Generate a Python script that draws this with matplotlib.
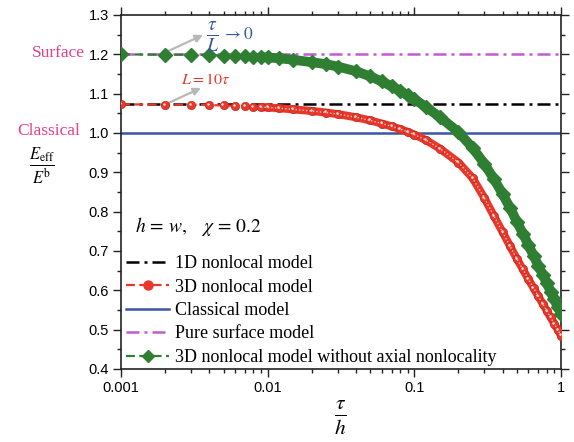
import matplotlib
matplotlib.use("Agg")
import matplotlib.pyplot as plt
from matplotlib.lines import Line2D
from matplotlib.ticker import FixedLocator, MultipleLocator, FuncFormatter
import matplotlib.transforms as mtransforms

# values
tau_h = [0.001, 0.002, 0.003, 0.004, 0.005, 0.006, 0.007, 0.008, 0.009, 0.01,
         0.012, 0.015, 0.02, 0.025, 0.03, 0.04, 0.05, 0.06, 0.07, 0.08, 0.09, 0.1,
         0.12, 0.15, 0.2, 0.25, 0.3, 0.35, 0.4, 0.45, 0.5, 0.55, 0.6, 0.65, 0.7,
         0.75, 0.8, 0.85, 0.9, 0.95, 1.0]
nonlocal_3d = [1.073, 1.072, 1.072, 1.071, 1.070, 1.069, 1.068, 1.067, 1.066, 1.065,
               1.063, 1.060, 1.056, 1.052, 1.048, 1.040, 1.032, 1.024, 1.017, 1.010, 1.003, 0.996,
               0.982, 0.960, 0.925, 0.885, 0.835, 0.788, 0.748, 0.712, 0.680, 0.653, 0.628, 0.606, 0.585,
               0.566, 0.548, 0.531, 0.515, 0.500, 0.485]
no_axial = [1.200, 1.199, 1.199, 1.198, 1.197, 1.196, 1.195, 1.194, 1.193, 1.192,
            1.190, 1.186, 1.180, 1.175, 1.169, 1.157, 1.144, 1.131, 1.119, 1.107, 1.096, 1.086,
            1.066, 1.040, 1.002, 0.962, 0.922, 0.882, 0.845, 0.809, 0.775, 0.744, 0.715, 0.688, 0.663,
            0.640, 0.618, 0.597, 0.577, 0.558, 0.540]
x_const = [0.001, 1.0]
nonlocal_1d = [1.073, 1.073]
classical = [1.0, 1.0]
pure_surface = [1.2, 1.2]

labels = ["1D nonlocal model", "3D nonlocal model", "Classical model",
          "Pure surface model", "3D nonlocal model without axial nonlocality"]

RED = "#e8382b"
GREEN = "#2f7f32"
BLUE = "#3a55a8"
PURPLE = "#c05ccf"
PINK = "#e63e8a"
GREY = "#b8b8b8"

W, H = 574, 442
plt.rcParams["font.family"] = ["Liberation Serif", "DejaVu Serif"]
plt.rcParams["mathtext.fontset"] = "stix"


def fp(x, y):
    # pixel position (from top-left) -> figure fraction
    return (x / W, 1 - y / H)


fig = plt.figure(figsize=(W / 100, H / 100), dpi=100)
ax = fig.add_axes([121 / W, 1 - 369 / H, 440 / W, 354 / H])

dd = (5.2, 2.0, 1.2, 2.0)
ax.plot(x_const, classical, color=BLUE, lw=1.8, zorder=2)
ax.plot(x_const, nonlocal_1d, color="black", lw=1.8, dashes=dd, zorder=2)
ax.plot(x_const, pure_surface, color=PURPLE, lw=1.8, dashes=dd, zorder=2)

# merged band where markers overlap
band = 8
ax.plot(tau_h[band:], nonlocal_3d[band:], color=RED, lw=5.8,
        solid_capstyle="round", zorder=3)
ax.plot(tau_h, nonlocal_3d, color=RED, lw=1.6, dashes=(4, 2), marker="o", ms=6,
        mfc=RED, mec="#c82a20", mew=0.5, zorder=4)
ax.plot(tau_h[band:], nonlocal_3d[band:], color="#f8c0b8", lw=1.0, ls=(0, (1, 1.5)), zorder=5)
hl = mtransforms.offset_copy(ax.transData, fig=fig, x=-0.8, y=0.8, units="points")
ax.plot(tau_h, nonlocal_3d, ls="none", marker="o", ms=1.8, mfc="#fde0dc", mec="none",
        transform=hl, zorder=5)

ax.plot(tau_h[band:], no_axial[band:], color=GREEN, lw=7.0,
        solid_capstyle="round", zorder=6)
ax.plot(tau_h, no_axial, color=GREEN, lw=1.6, dashes=(4, 2), marker="D", ms=7.5,
        mfc=GREEN, mec=GREEN, zorder=7)

ax.set_xscale("log")
ax.set_xlim(0.001, 1)
ax.set_ylim(0.4, 1.3)
ax.xaxis.set_major_locator(FixedLocator([0.001, 0.01, 0.1, 1]))
ax.xaxis.set_major_formatter(FuncFormatter(lambda v, p: "%g" % v))
ax.yaxis.set_major_locator(MultipleLocator(0.1))
ax.yaxis.set_minor_locator(MultipleLocator(0.05))
ax.yaxis.set_major_formatter(FuncFormatter(lambda v, p: "%.1f" % v))

for s in ax.spines.values():
    s.set_linewidth(1.2)
    s.set_color("#222222")
ax.tick_params(which="both", direction="out", top=True, right=True,
               labeltop=False, labelright=False, color="#222222", width=1.0)
ax.tick_params(which="major", length=5.5, pad=3)
ax.tick_params(which="minor", length=3)
for t in ax.get_xticklabels() + ax.get_yticklabels():
    t.set_fontfamily("Liberation Sans")
    t.set_fontsize(10.5)

# legend
handles = [
    Line2D([], [], color="black", lw=1.8, dashes=dd),
    Line2D([], [], color=RED, lw=1.6, dashes=(4, 2), marker="o", ms=6.5, mfc=RED, mec=RED),
    Line2D([], [], color=BLUE, lw=1.8),
    Line2D([], [], color=PURPLE, lw=1.8, dashes=dd),
    Line2D([], [], color=GREEN, lw=1.6, dashes=(4, 2), marker="D", ms=6.5, mfc=GREEN, mec=GREEN),
]
ax.legend(handles, labels, loc="upper left", bbox_to_anchor=fp(126, 255),
          bbox_transform=fig.transFigure, frameon=False, fontsize=13,
          handlelength=2.4, handletextpad=0.3, labelspacing=0.36,
          borderpad=0, borderaxespad=0)

ax.text(*fp(135, 227), r"$h\,=\,w,\ \ \ \chi\,=\,0.2$", transform=fig.transFigure,
        fontsize=14, va="center", ha="left")

fig.text(*fp(85, 53), "Surface", color=PINK, fontsize=12.5, ha="right", va="center")
fig.text(*fp(80, 131), "Classical", color=PINK, fontsize=12.5, ha="right", va="center")
fig.text(*fp(42, 166), r"$\frac{E_{\mathrm{eff}}}{E^{\mathrm{b}}}$", fontsize=17,
         ha="center", va="center")
fig.text(*fp(340, 418), r"$\frac{\tau}{h}$", fontsize=22, ha="center", va="center")

fig.text(*fp(213, 37), r"$\frac{\tau}{L}$", color=BLUE, fontsize=20,
         ha="center", va="center")
fig.text(*fp(222, 35), r"$\rightarrow 0$", color=BLUE, fontsize=12.5,
         ha="left", va="center")
fig.text(*fp(206, 80), r"$L = 10\tau$", color=RED, fontsize=11.5,
         ha="center", va="center")
arrow = dict(arrowstyle="-|>", color=GREY, lw=1.6, mutation_scale=11, shrinkA=0, shrinkB=0)
ax.annotate("", xy=fp(203, 35), xytext=fp(164, 53), xycoords="figure fraction",
            textcoords="figure fraction", arrowprops=arrow)
ax.annotate("", xy=fp(201, 88), xytext=fp(164, 105), xycoords="figure fraction",
            textcoords="figure fraction", arrowprops=arrow)

fig.savefig("out.png", dpi=100)
